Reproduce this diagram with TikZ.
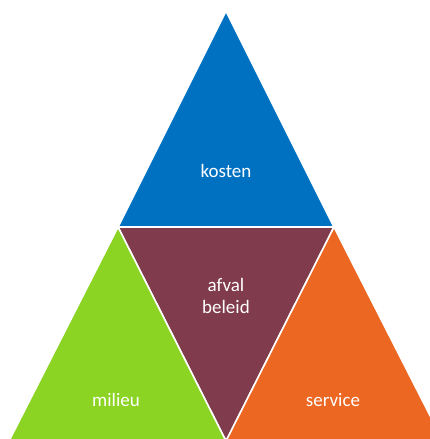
\documentclass[tikz,border=0pt]{standalone}
\usepackage{fontspec}
\setmainfont{Carlito}
\definecolor{cblue}{RGB}{0,112,192}
\definecolor{cmaroon}{RGB}{128,59,76}
\definecolor{cgreen}{RGB}{139,212,36}
\definecolor{corange}{RGB}{235,103,34}
\begin{document}
\begin{tikzpicture}[x=1pt,y=-1pt,
  tri/.style={draw=white,line width=1.6pt,line join=miter},
  lbl/.style={text=white,font=\fontsize{19}{22}\selectfont,align=center}]
\useasboundingbox (0,0) rectangle (429,439);
\coordinate (tA) at (226,11);
\coordinate (tL) at (118,227);
\coordinate (tR) at (334,227);
\coordinate (bM) at (226,441);
\coordinate (gL) at (9,441);
\coordinate (oR) at (443,441);
\fill[cblue,tri] (tA) -- (tL) -- (tR) -- cycle;
\fill[cmaroon,tri] (tL) -- (tR) -- (bM) -- cycle;
\fill[cgreen,tri] (tL) -- (bM) -- (gL) -- cycle;
\fill[corange,tri] (tR) -- (oR) -- (bM) -- cycle;
\node[lbl] (kosten) at (226,171) {kosten};
\node[lbl] (afval) at (226,296) {afval\\beleid};
\node[lbl] (milieu) at (116,400) {milieu};
\node[lbl] (service) at (333,400) {service};
\end{tikzpicture}
\end{document}
